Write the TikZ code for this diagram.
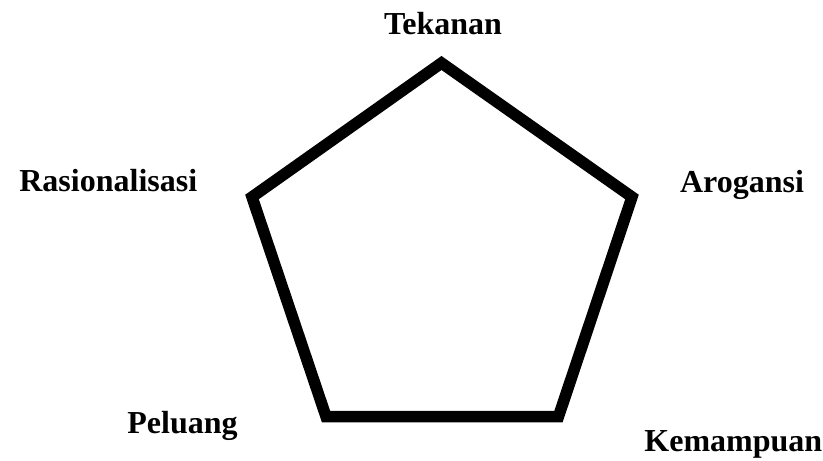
\documentclass[tikz,border=0pt]{standalone}
\usepackage{fontspec}
\setmainfont{Liberation Serif}
\begin{document}
\begin{tikzpicture}[x=1pt,y=-1pt,
  lbl/.style={font=\fontsize{32}{38}\selectfont\bfseries, inner sep=0pt, anchor=base},
  edge/.style={line width=11.5pt, line join=miter, draw=black}]
\useasboundingbox (0,0) rectangle (823,461);
\coordinate (pT) at (441.5,63);
\coordinate (pR) at (632,197);
\coordinate (pBR) at (558.5,416.5);
\coordinate (pBL) at (326,416.5);
\coordinate (pL) at (252,197);
\draw[edge] (pT) -- (pR) -- (pBR) -- (pBL) -- (pL) -- cycle;
\node[lbl] (tek) at (443,34.3) {Tekanan};
\node[lbl] (ras) at (108.3,191.7) {Rasionalisasi};
\node[lbl] (aro) at (742,192.3) {Arogansi};
\node[lbl] (pel) at (182.5,433.3) {Peluang};
\node[lbl] (kem) at (733.3,451.7) {Kemampuan};
\end{tikzpicture}
\end{document}
